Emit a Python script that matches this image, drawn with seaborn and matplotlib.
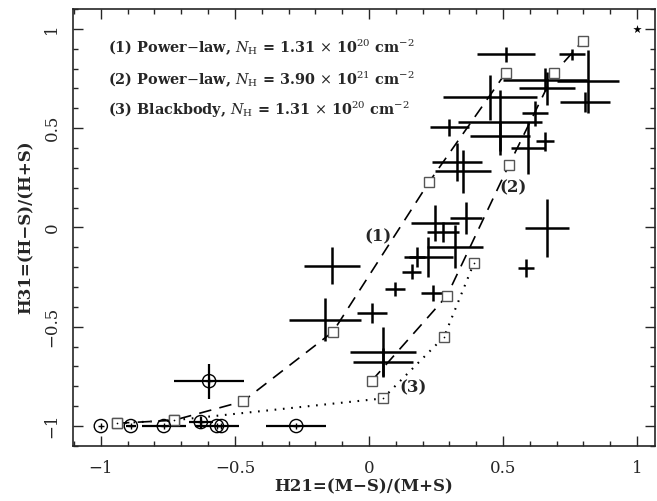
import numpy as np
import pandas as pd
import seaborn as sns
import matplotlib.pyplot as plt
from matplotlib.ticker import MultipleLocator

# model tracks (H21, H31)
pl1_x = [-0.94, -0.728, -0.470, -0.134, 0.224, 0.511]
pl1_y = [-0.986, -0.971, -0.876, -0.525, 0.228, 0.780]
pl2_x = [0.011, 0.291, 0.522, 0.690, 0.799]
pl2_y = [-0.771, -0.344, 0.314, 0.776, 0.941]
bb_x = [-0.94, -0.728, 0.052, 0.280, 0.392]
bb_y = [-0.986, -0.971, -0.861, -0.551, -0.178]

# sources with error bars
src_x = [0.511, 0.757, 0.657, 0.817, 0.664, 0.451, 0.806, 0.299, 0.489, 0.619,
         0.489, 0.593, 0.657, 0.328, 0.351, -0.139, -0.164, 0.010, 0.097, 0.159,
         0.221, 0.178, 0.239, 0.246, 0.277, 0.362, 0.321, 0.052, 0.052, 0.664, 0.586]
src_y = [0.871, 0.871, 0.745, 0.735, 0.700, 0.655, 0.630, 0.505, 0.530, 0.575,
         0.459, 0.399, 0.434, 0.329, 0.284, -0.193, -0.464, -0.431, -0.310, -0.222,
         -0.147, -0.147, -0.329, 0.024, -0.021, 0.048, -0.096, -0.625, -0.680, -0.002, -0.203]
src_xe = [0.108, 0.049, 0.157, 0.116, 0.104, 0.175, 0.093, 0.073, 0.157, 0.047,
          0.112, 0.065, 0.034, 0.093, 0.104, 0.104, 0.134, 0.056, 0.037, 0.037,
          0.092, 0.030, 0.045, 0.090, 0.060, 0.060, 0.104, 0.123, 0.112, 0.082, 0.030]
src_ye = [0.038, 0.030, 0.060, 0.160, 0.085, 0.115, 0.050, 0.043, 0.163, 0.063,
          0.075, 0.130, 0.048, 0.095, 0.108, 0.094, 0.110, 0.050, 0.035, 0.038,
          0.100, 0.050, 0.040, 0.090, 0.050, 0.080, 0.110, 0.125, 0.075, 0.145, 0.045]

# circled sources
circ_x = [-1.0, -0.888, -0.765, -0.627, -0.567, -0.550, -0.271, -0.596]
circ_y = [-1.0, -1.0, -1.0, -0.980, -1.0, -1.0, -1.0, -0.774]
circ_xe = [0.0, 0.019, 0.083, 0.045, 0.082, 0.0, 0.112, 0.131]
circ_ye = [0.0, 0.0, 0.0, 0.028, 0.0, 0.0, 0.0, 0.088]

star_x = [1.0]
star_y = [1.0]

legend_lines = [
    r"(1) Power$-$law, $N_\mathrm{H}$ = 1.31 $\times$ 10$^{20}$ cm$^{-2}$",
    r"(2) Power$-$law, $N_\mathrm{H}$ = 3.90 $\times$ 10$^{21}$ cm$^{-2}$",
    r"(3) Blackbody, $N_\mathrm{H}$ = 1.31 $\times$ 10$^{20}$ cm$^{-2}$",
]

sns.set_style("ticks")
plt.rcParams['font.family'] = ['DejaVu Serif']
plt.rcParams['mathtext.fontset'] = 'dejavuserif'

fig = plt.figure(figsize=(6.57, 5.01), dpi=100)
ax = fig.add_axes([0.111, 0.110, 0.886, 0.872])

# model curves
sqkw = dict(marker='s', markersize=7, markerfacecolor='white',
            markeredgecolor='#555555', markeredgewidth=1.0)
sns.lineplot(x=pl1_x, y=pl1_y, sort=False, estimator=None, ax=ax, color='black',
             lw=1.2, zorder=3, **sqkw)
ax.lines[-1].set_dashes((7.5, 5))
sns.lineplot(x=pl2_x, y=pl2_y, sort=False, estimator=None, ax=ax, color='black',
             lw=1.2, zorder=3, **sqkw)
ax.lines[-1].set_dashes((7.5, 5))
sns.lineplot(x=bb_x, y=bb_y, sort=False, estimator=None, ax=ax, color='black',
             lw=1.5, zorder=3, **sqkw)
ax.lines[-1].set_dashes((0.8, 3.2))
sns.scatterplot(x=bb_x, y=bb_y, ax=ax, marker='.', s=6, color='black',
                linewidth=0, zorder=4)

# sources
ax.errorbar(src_x, src_y, xerr=src_xe, yerr=src_ye, fmt='none',
            ecolor='black', elinewidth=1.8, capsize=0, zorder=2)
ax.errorbar(circ_x, circ_y, xerr=circ_xe, yerr=circ_ye, fmt='none',
            ecolor='black', elinewidth=1.6, capsize=0, zorder=2)
sns.scatterplot(x=circ_x, y=circ_y, ax=ax, marker='o', s=90, facecolor='none',
                edgecolor='black', linewidth=1.0, zorder=5)
sns.scatterplot(x=circ_x, y=circ_y, ax=ax, marker='+', s=14, color='black',
                linewidth=1.0, zorder=5)
sns.scatterplot(x=star_x, y=star_y, ax=ax, marker='*', s=40, color='black',
                linewidth=0, zorder=5)

# labels on the curves
tkw = dict(fontsize=12, fontweight='bold', ha='center', va='center')
ax.text(0.034, -0.048, "(1)", **tkw)
ax.text(0.537, 0.198, "(2)", **tkw)
ax.text(0.164, -0.806, "(3)", **tkw)

for txt, yy in zip(legend_lines, [0.906, 0.745, 0.590]):
    ax.text(-0.974, yy, txt, fontsize=10.4, fontweight='bold', ha='left', va='center')

ax.set_xlim(-1.104, 1.067)
ax.set_ylim(-1.1, 1.1)
ax.xaxis.set_minor_locator(MultipleLocator(0.1))
ax.yaxis.set_minor_locator(MultipleLocator(0.1))
ax.set_xticks([-1, -0.5, 0, 0.5, 1])
ax.set_xticklabels(['−1', '−0.5', '0', '0.5', '1'])
ax.set_yticks([-1, -0.5, 0, 0.5, 1])
ax.set_yticklabels(['−1', '−0.5', '0', '0.5', '1'], rotation=90, va='center')
ax.tick_params(which='both', direction='in', top=True, right=True,
               labelsize=12, width=1.0)
ax.tick_params(axis='x', pad=10)
ax.tick_params(axis='y', pad=9)
ax.tick_params(which='major', length=7)
ax.tick_params(which='minor', length=3.5)
for sp in ax.spines.values():
    sp.set_linewidth(1.2)
    sp.set_visible(True)

ax.set_xlabel("H21=(M−S)/(M+S)", fontsize=12, fontweight='bold', labelpad=1)
ax.set_ylabel("H31=(H−S)/(H+S)", fontsize=12, fontweight='bold', labelpad=6)

fig.savefig('out.png', dpi=100)
